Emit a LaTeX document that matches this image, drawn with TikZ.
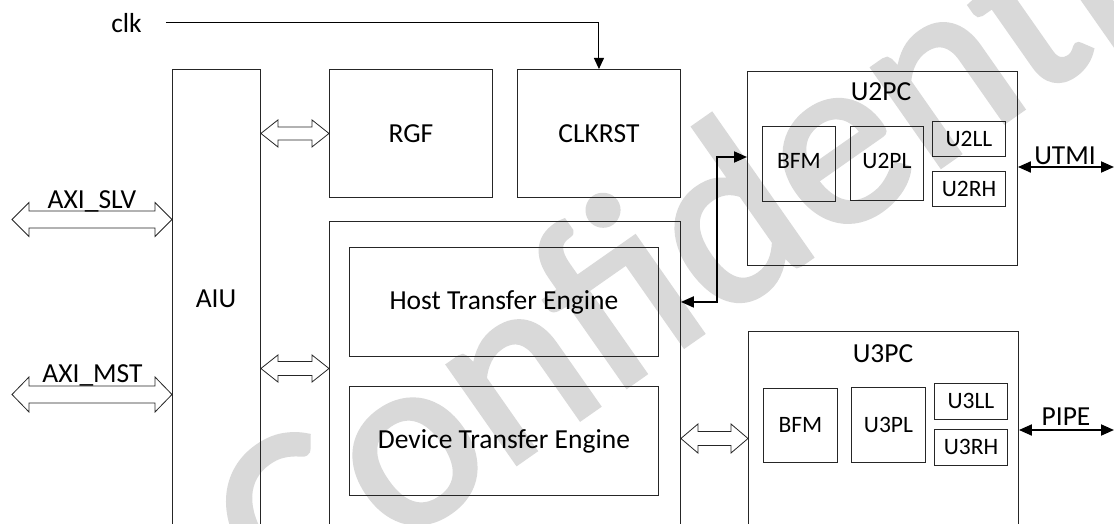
\documentclass[tikz,border=0pt]{standalone}
\usepackage{fontspec}
\setmainfont{Carlito}
\newfontfamily\wmfont{Carlito}[FakeBold=2]
\usetikzlibrary{arrows.meta,calc}
\tikzset{
  blk/.style={draw=black!85, line width=0.9pt, rectangle, inner sep=0pt, anchor=north west},
  big/.style={font=\fontsize{27.5}{31}\selectfont},
  small/.style={font=\fontsize{23.5}{27}\selectfont},
  lbl/.style={inner sep=0pt},
  harrow/.style={draw=black!85, fill=white, line width=0.8pt, line join=miter},
  sig/.style={line width=1.9pt, {Triangle[length=13pt,width=11pt]}-{Triangle[length=13pt,width=11pt]}},
  clkarr/.style={line width=1pt, -{Triangle[length=11pt,width=10pt]}},
  wmark/.style={text=black!15, rotate=35, font=\wmfont\fontsize{250}{250}\selectfont, inner sep=0pt},
}
\newcommand\hollowarr[4]{%
  \draw[harrow] (#1) -- ++(17,-#4) -- ++(0,#4-#3) -- ($(#2)+(-17,-#3)$) -- ++(0,#3-#4)
    -- (#2) -- ++(-17,#4) -- ++(0,#3-#4) -- ($(#1)+(17,#3)$) -- ++(0,#4-#3) -- cycle;}
\begin{document}
\begin{tikzpicture}[x=1pt,y=-1pt]
\path[use as bounding box, clip] (0,0) rectangle (1114,524);
\fill[white] (0,0) rectangle (1114,524);
% watermark
\node[wmark] (wm) at (740,202) {Confidential};
% blocks
\node[blk, minimum width=88pt, minimum height=520pt] (aiu) at (172,69) {};
\node[big, lbl] (aiulbl) at (216,299) {AIU};
\node[blk, big, minimum width=163pt, minimum height=128pt] (rgf) at (329,69) {RGF};
\node[blk, big, minimum width=163pt, minimum height=128pt] (clkrst) at (517,69) {CLKRST};
\node[blk, minimum width=351pt, minimum height=400pt] (eng) at (329,221) {};
\node[blk, big, minimum width=309pt, minimum height=109pt] (hte) at (349,247) {Host Transfer Engine};
\node[blk, big, minimum width=309pt, minimum height=109pt] (dte) at (349,386) {Device Transfer Engine};
% U2PC
\node[blk, minimum width=270pt, minimum height=194pt] (u2pc) at (747,71) {};
\node[big, lbl] (u2pclbl) at (881,92) {U2PC};
\node[blk, small, minimum width=73pt, minimum height=75pt] (bfm2) at (762,126) {\raisebox{6pt}{BFM}};
\node[blk, small, minimum width=73pt, minimum height=74pt] (u2pl) at (850,126) {\raisebox{6pt}{U2PL}};
\node[blk, small, minimum width=73pt, minimum height=35pt] (u2ll) at (932,121) {U2LL};
\node[blk, small, minimum width=73pt, minimum height=35pt] (u2rh) at (932,171) {U2RH};
% U3PC
\node[blk, minimum width=270pt, minimum height=300pt] (u3pc) at (748,331) {};
\node[big, lbl] (u3pclbl) at (883,354) {U3PC};
\node[blk, small, minimum width=74pt, minimum height=74pt] (bfm3) at (763,388) {BFM};
\node[blk, small, minimum width=74pt, minimum height=75pt] (u3pl) at (851,387) {U3PL};
\node[blk, small, minimum width=73pt, minimum height=36pt] (u3ll) at (934,383) {U3LL};
\node[blk, small, minimum width=73pt, minimum height=36pt] (u3rh) at (934,429) {U3RH};
% clk
\node[big, lbl, anchor=base] (clk) at (126.5,33) {clk};
\coordinate (clkS) at ([xshift=24pt]clk.east);
\draw[clkarr] (clkS |- 0,23) -| (clkrst.north);
% hollow bus arrows
\coordinate (slvL) at (12,219.5);
\coordinate (slvR) at (aiu.west |- slvL);
\coordinate (mstL) at (12,394.5);
\coordinate (mstR) at (aiu.west |- mstL);
\coordinate (rgfL) at (aiu.east |- rgf.west);
\coordinate (rgfR) at (rgf.west);
\coordinate (engL) at (aiu.east |- 0,368.5);
\coordinate (engR) at (eng.west |- engL);
\coordinate (u3L) at (eng.east |- 0,438.5);
\coordinate (u3R) at (u3pc.west |- u3L);
\hollowarr{slvL}{slvR}{8.5}{17}
\hollowarr{mstL}{mstR}{8.5}{17.5}
\hollowarr{rgfL}{rgfR}{6.5}{13.5}
\hollowarr{engL}{engR}{7}{13.5}
\hollowarr{u3L}{u3R}{7}{14.5}
\node[big, lbl, anchor=base] (slvlbl) at (92,208) {AXI\_SLV};
\node[big, lbl, anchor=base] (mstlbl) at (92.5,382) {AXI\_MST};
% signal arrows
\draw[sig] (eng.east |- hte) -- ++(36,0) |- (u2pc.west |- 0,157);
\coordinate (utmiR) at (1114,167);
\draw[sig] (u2pc.east |- utmiR) -- (utmiR);
\node[big, lbl] (utmilbl) at (1065,156) {UTMI};
\coordinate (pipeR) at (1114,430);
\draw[sig] (u3pc.east |- pipeR) -- (pipeR);
\node[big, lbl] (pipelbl) at (1066,417) {PIPE};
\end{tikzpicture}
\end{document}
